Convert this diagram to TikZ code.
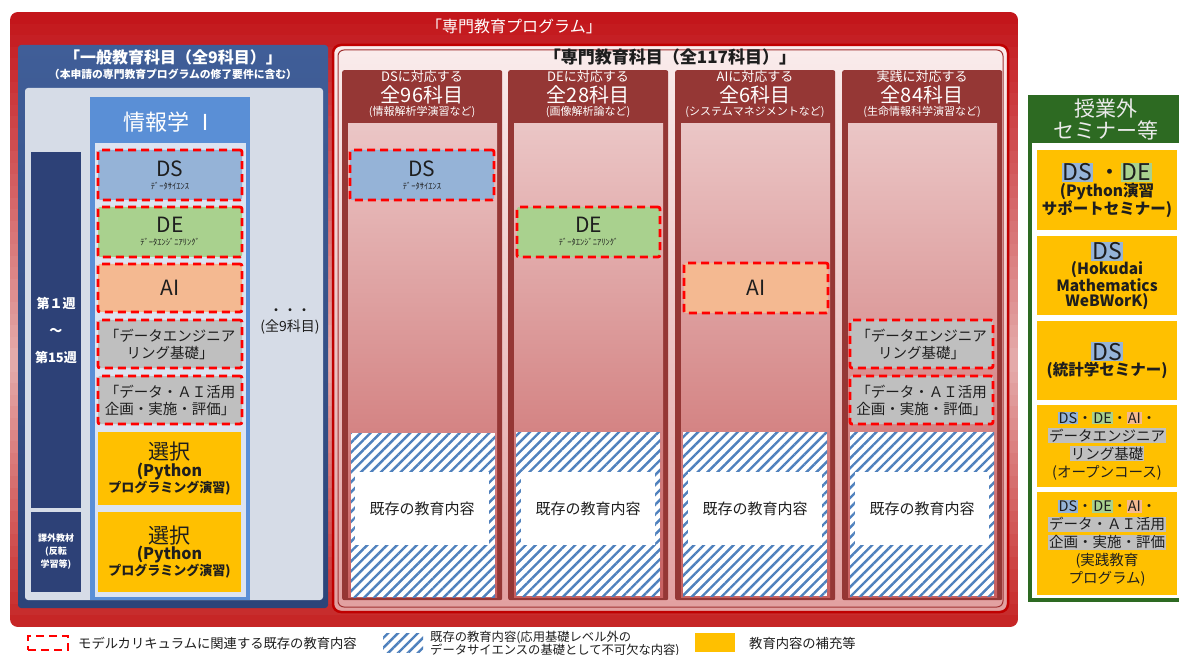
\documentclass[tikz,border=0pt]{standalone}
\usepackage{fontspec}
\setmainfont{Noto Sans CJK JP}
\usetikzlibrary{patterns.meta}
\definecolor{dsblue}{HTML}{95B3D7}
\definecolor{degreen}{HTML}{A9D18E}
\definecolor{aiorange}{HTML}{F4B991}
\definecolor{grayb}{HTML}{BFBFBF}
\definecolor{yel}{HTML}{FFC000}
\definecolor{colred}{HTML}{953735}
\definecolor{navy}{HTML}{2D4177}
\definecolor{jblue}{HTML}{5A8FD6}
\definecolor{jinner}{HTML}{DCE4F1}
\definecolor{linner}{HTML}{D6DCE7}
\definecolor{gr}{HTML}{2D6A22}
\definecolor{hatch}{HTML}{4F81BD}
\definecolor{txt}{HTML}{1E1E1E}
\definecolor{otop}{HTML}{C3161B}
\definecolor{omid}{HTML}{E4AAAA}
\definecolor{obot}{HTML}{C62626}
\definecolor{ltop}{HTML}{405E98}
\definecolor{lbot}{HTML}{2C4479}
\definecolor{pborder}{HTML}{C00000}
\definecolor{ptop}{HTML}{FAECEC}
\definecolor{pbot}{HTML}{E2A0A0}
\definecolor{pinline}{HTML}{A03232}
\definecolor{ctop}{HTML}{EBC6C6}
\definecolor{cbot}{HTML}{C86060}
\definecolor{lgray}{HTML}{EBEBEB}
\newcommand\fsz[2]{\fontsize{#1}{#2}\selectfont}
\newcommand\hlt[2]{{\setlength{\fboxsep}{0.8pt}\colorbox{#1}{#2}}}
\newcommand\mybox[7]{\node[anchor=north west, inner sep=0pt, outer sep=0pt, minimum width=#4-#2, minimum height=#5-#3, #6] (#1) at (#2,#3) {#7};}
\tikzset{
  dashbox/.style={draw=red, line width=2.8pt, dash pattern=on 8pt off 5pt, rounded corners=2pt, align=center, text=txt},
  hatchbox/.style={preaction={fill=white}, pattern={Lines[angle=45,distance=7pt,line width=2.4pt]}, pattern color=hatch},
  wtxt/.style={text=white, align=center, inner sep=0pt},
  dtxt/.style={text=txt, align=center, inner sep=0pt},
  ybox/.style={fill=yel, align=center, text=txt},
}
\begin{document}
\begin{tikzpicture}[x=1pt,y=-1pt]
\useasboundingbox (0,0) rectangle (1179,655);
\fill[white] (0,0) rectangle (1179,655);
% outer programme box (banded vertical gradient)
\mybox{outer}{10}{12}{1018}{627}{}{}
\begin{scope}
\clip[rounded corners=8pt] (outer.north west) rectangle (outer.south east);
\foreach \k in {0,...,29}{
  \pgfmathtruncatemacro\p{\k*100/29}
  \pgfmathsetmacro\ya{12+\k*11.6}
  \fill[omid!\p!otop] (10,\ya) rectangle (1018,\ya+12.2);
}
\foreach \k in {0,...,22}{
  \pgfmathtruncatemacro\p{\k*100/22}
  \pgfmathsetmacro\ya{360+\k*11.6}
  \fill[obot!\p!omid] (10,\ya) rectangle (1018,\ya+12.2);
}
\end{scope}
\node[wtxt, font=\fsz{16}{18}] (ttl) at (514,26) {「専門教育プログラム」};
% left general education panel
\mybox{lpanel}{18}{45}{328}{608}{rounded corners=3pt, top color=ltop, bottom color=lbot}{}
\node[wtxt, font=\bfseries\fsz{16}{18}] (lt1) at (173,57) {「一般教育科目（全9科目）」};
\node[wtxt, font=\bfseries\fsz{10.8}{12}] (lt2) at (173,74) {（本申請の専門教育プログラムの修了要件に含む）};
\mybox{lin}{25}{88}{323}{600}{rounded corners=3pt, fill=linner}{}
\mybox{wk1}{31}{152}{81}{508}{fill=navy, text=white, align=center, font=\bfseries\fsz{13}{15}}{第１週\\[12pt]～\\[12pt]第15週}
\mybox{wk2}{31}{512}{81}{592}{fill=navy, text=white, align=center, font=\bfseries\fsz{9}{13}}{課外教材\\(反転\\学習等)}
\mybox{jb}{90}{97}{250}{600}{fill=jblue}{}
\node[wtxt, font=\fsz{22}{24}] (jt) at (170,122) {情報学 Ⅰ};
\mybox{jin}{95}{143}{246}{597}{fill=jinner}{}
\mybox{ds1}{98}{150}{242}{200}{dashbox, fill=dsblue}{{\fsz{21}{21}DS}\\[1pt]{\fsz{8.5}{9}ﾃﾞｰﾀｻｲｴﾝｽ}}
\mybox{de1}{98}{207}{242}{257}{dashbox, fill=degreen}{{\fsz{21}{21}DE}\\[1pt]{\fsz{8.5}{9}ﾃﾞｰﾀｴﾝｼﾞﾆｱﾘﾝｸﾞ}}
\mybox{ai1}{98}{264}{242}{312}{dashbox, fill=aiorange}{{\fsz{21}{21}AI}}
\mybox{deb1}{98}{320}{242}{368}{dashbox, fill=grayb, font=\fsz{14.5}{17}}{「データエンジニア\\リング基礎」}
\mybox{dai1}{98}{376}{242}{424}{dashbox, fill=grayb, font=\fsz{14.5}{17}}{「データ・ＡＩ活用\\企画・実施・評価」}
\mybox{sel1}{98}{432}{241}{505}{ybox}{{\fsz{21}{22}選択}\\{\bfseries\fsz{16}{18}(Python}\\{\bfseries\fsz{13}{16}プログラミング演習)}}
\mybox{sel2}{98}{512}{241}{592}{ybox}{{\fsz{21}{22}選択}\\{\bfseries\fsz{16}{18}(Python}\\{\bfseries\fsz{13}{16}プログラミング演習)}}
\node[dtxt, font=\fsz{14}{16}] (dots) at (290,321) {・・・\\(全9科目)};
% specialised subjects box
\mybox{prog}{333}{45}{1008}{612}{rounded corners=8pt, draw=pborder, line width=2.5pt, top color=ptop, bottom color=pbot}{}
\draw[pinline, line width=1pt, rounded corners=6pt] (prog.north west) ++(5,5) rectangle ([shift={(-5,-5)}]prog.south east);
\node[dtxt, font=\bfseries\fsz{17}{19}] (pt) at (670,57) {「専門教育科目（全117科目）」};
\foreach \i/\x/\ta/\tb/\tc in {1/342/DSに対応する/全96科目/(情報解析学演習など), 2/508/DEに対応する/全28科目/(画像解析論など), 3/675/AIに対応する/全6科目/(システムマネジメントなど), 4/842/実践に対応する/全84科目/(生命情報科学演習など)}{
  \node[anchor=north west, inner sep=0pt, minimum width=160, minimum height=530, fill=colred, rounded corners=2pt] (col\i) at (\x,70) {};
  \node[anchor=north west, inner sep=0pt, minimum width=149, minimum height=474, top color=ctop, bottom color=cbot] (cin\i) at (\x+6,123) {};
  \node[wtxt, font=\fsz{13}{14}] (ha\i) at (\x+80,77) {\ta};
  \node[wtxt, font=\fsz{20}{22}] (hb\i) at (\x+80,95) {\tb};
  \node[wtxt, font=\fsz{11}{12}] (hc\i) at (\x+80,112) {\tc};
  \node[anchor=north west, inner sep=0pt, minimum width=144, minimum height=164, hatchbox] (hat\i) at (\x+8,432) {};
  \node[anchor=north west, inner sep=0pt, minimum width=134, minimum height=73, fill=white, text=txt, font=\fsz{15}{17}] (ex\i) at (\x+13,472) {既存の教育内容};
}
\mybox{ds2}{350}{150}{494}{200}{dashbox, fill=dsblue}{{\fsz{21}{21}DS}\\[1pt]{\fsz{8.5}{9}ﾃﾞｰﾀｻｲｴﾝｽ}}
\mybox{de2}{517}{207}{660}{257}{dashbox, fill=degreen}{{\fsz{21}{21}DE}\\[1pt]{\fsz{8.5}{9}ﾃﾞｰﾀｴﾝｼﾞﾆｱﾘﾝｸﾞ}}
\mybox{ai2}{684}{263}{828}{313}{dashbox, fill=aiorange}{{\fsz{21}{21}AI}}
\mybox{deb2}{850}{320}{993}{368}{dashbox, fill=grayb, font=\fsz{14.5}{17}}{「データエンジニア\\リング基礎」}
\mybox{dai2}{850}{376}{993}{424}{dashbox, fill=grayb, font=\fsz{14.5}{17}}{「データ・ＡＩ活用\\企画・実施・評価」}
% extra-curricular panel
\mybox{gp}{1030}{97}{1190}{600}{draw=gr, line width=4pt, fill=white}{}
\mybox{gh}{1030}{97}{1190}{143}{fill=gr}{}
\node[text=lgray, align=center, inner sep=0pt, font=\fsz{21}{22}] (ght) at (1106,120) {授業外\\セミナー等};
\mybox{y1}{1037}{150}{1177}{230}{ybox}{{\fsz{23}{24}\hlt{dsblue}{DS} ・\hlt{degreen}{DE}}\\{\bfseries\fsz{15.5}{18}(Python演習}\\{\bfseries\fsz{15.5}{18}サポートセミナー)}}
\mybox{y2}{1037}{236}{1177}{315}{ybox}{{\fsz{23}{22}\hlt{dsblue}{DS}}\\{\bfseries\fsz{15.5}{17}(Hokudai}\\{\bfseries\fsz{15.5}{17}Mathematics}\\{\bfseries\fsz{15.5}{17}WeBWorK)}}
\mybox{y3}{1037}{321}{1177}{400}{ybox}{{\fsz{23}{26}\hlt{dsblue}{DS}}\\{\bfseries\fsz{15.5}{18}(統計学セミナー)}}
\mybox{y4}{1037}{405}{1177}{487}{ybox, font=\fsz{14.5}{18}}{\hlt{dsblue}{DS}・\hlt{degreen}{DE}・\hlt{aiorange}{AI}・\\\hlt{grayb}{データエンジニア}\\\hlt{grayb}{リング基礎}\\(オープンコース)}
\mybox{y5}{1037}{492}{1177}{595}{ybox, font=\fsz{14.5}{18}}{\hlt{dsblue}{DS}・\hlt{degreen}{DE}・\hlt{aiorange}{AI}・\\\hlt{grayb}{データ・ＡＩ活用}\\\hlt{grayb}{企画・実施・評価}\\(実践教育\\プログラム)}
% legend
\mybox{lg1}{28}{636}{68}{650}{draw=red, line width=2.8pt, dash pattern=on 8pt off 5pt}{}
\node[anchor=west, dtxt, font=\fsz{13.3}{15}] (lg1t) at (78,643) {モデルカリキュラムに関連する既存の教育内容};
\mybox{lg2}{383}{633}{423}{652}{hatchbox}{}
\node[anchor=west, text=txt, align=left, inner sep=0pt, font=\fsz{12.3}{13}] (lg2t) at (430,644) {既存の教育内容(応用基礎レベル外の\\データサイエンスの基礎として不可欠な内容)};
\mybox{lg3}{695}{633}{735}{652}{fill=yel}{}
\node[anchor=west, dtxt, font=\fsz{13.3}{15}] (lg3t) at (749,643) {教育内容の補充等};
\end{tikzpicture}
\end{document}
